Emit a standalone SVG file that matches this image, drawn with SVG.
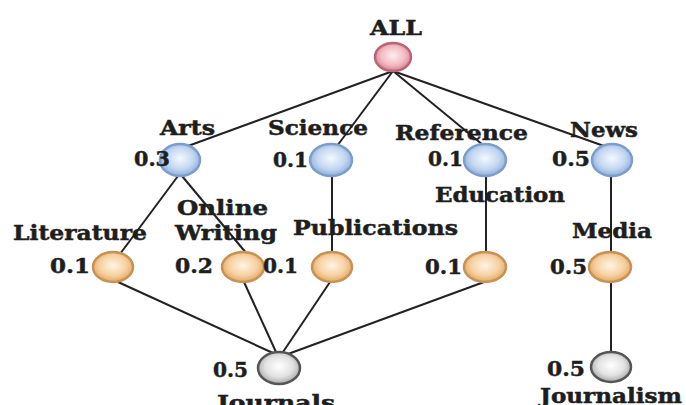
<svg xmlns="http://www.w3.org/2000/svg" width="686" height="405" viewBox="0 0 686 405">
  <defs>
    <radialGradient id="gBlue" cx="50%" cy="45%" r="55%">
      <stop offset="0" stop-color="#f4f8ff"/>
      <stop offset="0.6" stop-color="#c4d8f2"/>
      <stop offset="1" stop-color="#8fb0dc"/>
    </radialGradient>
    <radialGradient id="gOrange" cx="50%" cy="45%" r="55%">
      <stop offset="0" stop-color="#fff4e4"/>
      <stop offset="0.6" stop-color="#f6d2a4"/>
      <stop offset="1" stop-color="#e2a862"/>
    </radialGradient>
    <radialGradient id="gPink" cx="50%" cy="45%" r="55%">
      <stop offset="0" stop-color="#fdeef0"/>
      <stop offset="0.6" stop-color="#f2bcc4"/>
      <stop offset="1" stop-color="#d8808e"/>
    </radialGradient>
    <radialGradient id="gGray" cx="50%" cy="45%" r="55%">
      <stop offset="0" stop-color="#ffffff"/>
      <stop offset="0.6" stop-color="#e2e2e2"/>
      <stop offset="1" stop-color="#a8a8a8"/>
    </radialGradient>
  </defs>
  <style>
    text { font-family: "DejaVu Serif", "Liberation Serif", serif; font-weight: bold; font-size: 21px; fill: #1e1e1e; stroke: #1e1e1e; stroke-width: 0.5; }
    .edge { stroke: #222222; stroke-width: 2; fill: none; }
    .blue { fill: url(#gBlue); stroke: #7e9ccc; stroke-width: 2.5; }
    .orange { fill: url(#gOrange); stroke: #c89254; stroke-width: 2.5; }
    .pink { fill: url(#gPink); stroke: #b86676; stroke-width: 2.5; }
    .gray { fill: url(#gGray); stroke: #555555; stroke-width: 2.5; }
  </style>
  <rect width="686" height="405" fill="#ffffff"/>

  <g id="connectors">
    <line class="edge" x1="393" y1="71" x2="188" y2="146"/>
    <line class="edge" x1="393" y1="71" x2="337" y2="146"/>
    <line class="edge" x1="393" y1="71" x2="483" y2="145"/>
    <line class="edge" x1="393" y1="71" x2="604" y2="146"/>
    <line class="edge" x1="178" y1="176" x2="120" y2="254"/>
    <line class="edge" x1="182" y1="176" x2="247" y2="254"/>
    <line class="edge" x1="332" y1="176" x2="332" y2="252"/>
    <line class="edge" x1="486" y1="176" x2="486" y2="252"/>
    <line class="edge" x1="611" y1="176" x2="611" y2="252"/>
    <line class="edge" x1="611" y1="282" x2="611" y2="352"/>
    <line class="edge" x1="118" y1="282" x2="273" y2="353"/>
    <line class="edge" x1="244" y1="282" x2="276" y2="352"/>
    <line class="edge" x1="330" y1="282" x2="283" y2="352"/>
    <line class="edge" x1="484" y1="282" x2="288" y2="354"/>
  </g>

  <g id="node-all">
    <ellipse class="pink" cx="393" cy="57" rx="18" ry="14"/>
    <text x="370" y="35" textLength="52" lengthAdjust="spacingAndGlyphs">ALL</text>
  </g>
  <g id="node-arts">
    <ellipse class="blue" cx="180" cy="160" rx="20" ry="16"/>
    <text x="160" y="135" textLength="55" lengthAdjust="spacingAndGlyphs">Arts</text>
    <text x="134" y="166" textLength="36" lengthAdjust="spacingAndGlyphs">0.3</text>
  </g>
  <g id="node-science">
    <ellipse class="blue" cx="331" cy="160" rx="21" ry="16"/>
    <text x="268" y="135" textLength="100" lengthAdjust="spacingAndGlyphs">Science</text>
    <text x="273" y="167" textLength="35" lengthAdjust="spacingAndGlyphs">0.1</text>
  </g>
  <g id="node-reference">
    <ellipse class="blue" cx="485" cy="160" rx="21" ry="16"/>
    <text x="395" y="140" textLength="133" lengthAdjust="spacingAndGlyphs">Reference</text>
    <text x="428" y="166" textLength="35" lengthAdjust="spacingAndGlyphs">0.1</text>
  </g>
  <g id="node-news">
    <ellipse class="blue" cx="612" cy="160" rx="20" ry="16"/>
    <text x="570" y="137" textLength="68" lengthAdjust="spacingAndGlyphs">News</text>
    <text x="552" y="166" textLength="38" lengthAdjust="spacingAndGlyphs">0.5</text>
  </g>
  <g id="node-literature">
    <ellipse class="orange" cx="113" cy="267" rx="20" ry="15"/>
    <text x="13" y="240" textLength="134" lengthAdjust="spacingAndGlyphs">Literature</text>
    <text x="50" y="273" textLength="40" lengthAdjust="spacingAndGlyphs">0.1</text>
  </g>
  <g id="node-online-writing">
    <ellipse class="orange" cx="243" cy="267" rx="21" ry="15"/>
    <text x="177" y="215" textLength="91" lengthAdjust="spacingAndGlyphs">Online</text>
    <text x="175" y="240" textLength="102" lengthAdjust="spacingAndGlyphs">Writing</text>
    <text x="175" y="273" textLength="38" lengthAdjust="spacingAndGlyphs">0.2</text>
  </g>
  <g id="node-publications">
    <ellipse class="orange" cx="332" cy="267" rx="20" ry="15"/>
    <text x="293" y="235" textLength="165" lengthAdjust="spacingAndGlyphs">Publications</text>
    <text x="263" y="273" textLength="35" lengthAdjust="spacingAndGlyphs">0.1</text>
  </g>
  <g id="node-education">
    <ellipse class="orange" cx="485" cy="267" rx="21" ry="15"/>
    <text x="435" y="202" textLength="130" lengthAdjust="spacingAndGlyphs">Education</text>
    <text x="425" y="274" textLength="37" lengthAdjust="spacingAndGlyphs">0.1</text>
  </g>
  <g id="node-media">
    <ellipse class="orange" cx="610" cy="267" rx="21" ry="15"/>
    <text x="572" y="238" textLength="80" lengthAdjust="spacingAndGlyphs">Media</text>
    <text x="550" y="274" textLength="37" lengthAdjust="spacingAndGlyphs">0.5</text>
  </g>
  <g id="node-journals">
    <ellipse class="gray" cx="279" cy="368" rx="21" ry="16"/>
    <text x="213" y="377" textLength="35" lengthAdjust="spacingAndGlyphs">0.5</text>
    <text x="217" y="410" textLength="118" lengthAdjust="spacingAndGlyphs">Journals</text>
  </g>
  <g id="node-journalism">
    <ellipse class="gray" cx="611" cy="367" rx="20" ry="15"/>
    <text x="547" y="376" textLength="38" lengthAdjust="spacingAndGlyphs">0.5</text>
    <text x="540" y="403" textLength="142" lengthAdjust="spacingAndGlyphs">Journalism</text>
  </g>
</svg>
